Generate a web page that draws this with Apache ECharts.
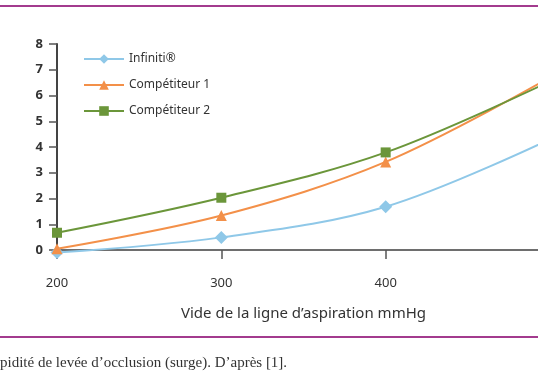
<!DOCTYPE html>
<html><head><meta charset="utf-8">
<script src="https://cdn.jsdelivr.net/npm/echarts@6/dist/echarts.min.js"></script>
<style>html,body{margin:0;padding:0;background:#fff}#c{width:538px;height:384px}</style>
</head><body><div id="c"></div>
<script>
const vacuum = [200, 300, 400, 500];
const infiniti = [-0.1, 0.49, 1.68, 4.3];
const comp1 = [0.05, 1.34, 3.42, 6.7];
const comp2 = [0.67, 2.03, 3.79, 6.55];
const seriesNames = ['Infiniti®', 'Compétiteur 1', 'Compétiteur 2'];
const xTitle = 'Vide de la ligne d\u2019aspiration mmHg';
const caption = 'pidité de levée d\u2019occlusion (surge). D\u2019après [1].';

const pair = (ys) => vacuum.map((x, i) => [x, ys[i]]);
const chart = echarts.init(document.getElementById('c'));
const font = '"Noto Sans", "Open Sans", sans-serif';
const mk = (name, data, color, symbol, size) => ({
  name, type: 'line', data: pair(data), smooth: 0.35, clip: false,
  symbol, symbolSize: size, showSymbol: true,
  lineStyle: { color, width: 2 }, itemStyle: { color },
  emphasis: { disabled: true }
});
chart.setOption({
  animation: false,
  textStyle: { fontFamily: font },
  grid: { left: 57, width: 493, top: 44, height: 206, containLabel: false, outerBoundsMode: 'none' },
  legend: {
    orient: 'vertical', left: 78, top: 48, itemGap: 14,
    itemWidth: 40, itemHeight: 12,
    textStyle: { fontFamily: font, fontSize: 12, color: '#333' },
    data: seriesNames
  },
  xAxis: {
    type: 'value', min: 200, max: 500, interval: 100,
    axisLine: { show: true, lineStyle: { color: '#6e6e6e', width: 2 } },
    axisTick: { show: true, length: 9, lineStyle: { color: '#555', width: 1.5 } },
    axisLabel: { margin: 27, fontSize: 13, color: '#333', fontFamily: font },
    splitLine: { show: false },
    name: xTitle, nameLocation: 'middle', nameGap: 56,
    nameTextStyle: { fontSize: 15, color: '#333', fontFamily: font }
  },
  yAxis: {
    type: 'value', min: 0, max: 8, interval: 1,
    axisLine: { show: true, lineStyle: { color: '#444', width: 2 } },
    axisTick: { show: true, length: 8, lineStyle: { color: '#555', width: 1.5 } },
    axisLabel: { margin: 14, fontSize: 13, fontWeight: 'bold', color: '#333', fontFamily: font },
    splitLine: { show: false }
  },
  series: [
    mk(seriesNames[0], infiniti, '#8fc8e8', 'diamond', 13),
    mk(seriesNames[1], comp1, '#f39049', 'triangle', 11),
    mk(seriesNames[2], comp2, '#6b963a', 'rect', 10)
  ],
  graphic: [
    { type: 'rect', shape: { x: 0, y: 5, width: 538, height: 2 }, style: { fill: '#a33b8e' } },
    { type: 'rect', shape: { x: 0, y: 336, width: 538, height: 2 }, style: { fill: '#a33b8e' } },
    { type: 'text', left: 0, top: 356, style: { text: caption, font: '15px "Liberation Serif", "DejaVu Serif", serif', fill: '#333' } }
  ]
});
</script></body></html>
